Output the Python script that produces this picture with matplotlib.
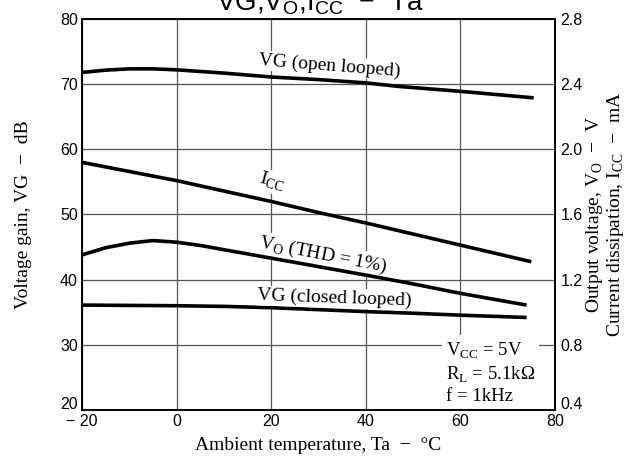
import matplotlib
matplotlib.use('Agg')
import matplotlib.pyplot as plt
import matplotlib.transforms as mtransforms

plt.rcParams['font.family'] = 'Liberation Sans'
plt.rcParams['mathtext.fontset'] = 'custom'
plt.rcParams['mathtext.rm'] = 'Liberation Serif'
plt.rcParams['mathtext.sf'] = 'Liberation Sans'

# Ambient temperature (°C) and readings
ta_vg_open = [-20, -15, -10, -5, 0, 5, 10, 15, 20, 30, 40, 47, 60, 75.5]
vg_open = [71.8, 72.15, 72.35, 72.35, 72.2, 71.95, 71.7, 71.4, 71.1, 70.7, 70.2, 69.65, 68.9, 67.9]   # dB

ta_vg_closed = [-20, 0, 10, 20, 30, 40, 50, 60, 74]
vg_closed = [36.1, 36.0, 35.9, 35.7, 35.4, 35.1, 34.85, 34.55, 34.2]   # dB

ta_icc = [-20, -10, 0, 10, 20, 30, 40, 50, 60, 75]
icc = [1.92, 1.864, 1.808, 1.744, 1.68, 1.612, 1.548, 1.48, 1.412, 1.31]   # mA

ta_vo = [-20, -15, -10, -5, 0, 5, 10, 20, 30, 40, 50, 60, 74]
vo = [1.352, 1.396, 1.424, 1.44, 1.43, 1.41, 1.384, 1.332, 1.28, 1.228, 1.174, 1.116, 1.044]   # V

x_ticks = [-20, 0, 20, 40, 60, 80]
x_ticklabels = ['\u2212 20', '0', '20', '40', '60', '80']
left_ticks = [20, 30, 40, 50, 60, 70, 80]
right_ticks = [0.4, 0.8, 1.2, 1.6, 2.0, 2.4, 2.8]

serif = 'Liberation Serif'

fig = plt.figure(figsize=(6.37, 4.72), dpi=100)
ax = fig.add_axes([82 / 637, 1 - 410 / 472, (555 - 82) / 637, (410 - 19) / 472])
ax2 = ax.twinx()

ax.set_xlim(-20, 80)
ax.set_ylim(20, 80)
ax2.set_ylim(0.4, 2.8)
ax.set_xticks(x_ticks)
ax.set_xticklabels(x_ticklabels)
ax.set_yticks(left_ticks)
ax2.set_yticks(right_ticks)
ax2.set_yticklabels([f'{v:.1f}' for v in right_ticks])
ax.tick_params(length=0, labelsize=11.5, pad=3)
ax2.tick_params(length=0, labelsize=11.5, pad=4)

# lift the bottom "20" so it clears "- 20"
shift = mtransforms.ScaledTranslation(0, 5 / 72, fig.dpi_scale_trans)
lbl = ax.get_yticklabels()[0]
lbl.set_transform(lbl.get_transform() + shift)
lbl = ax2.get_yticklabels()[0]
lbl.set_transform(lbl.get_transform() + shift)

ax.set_axisbelow(True)
ax.grid(True, color='#555555', linewidth=0.9)
for a in (ax, ax2):
    for s in a.spines.values():
        s.set_linewidth(1.2)
        s.set_color('black')

# curves
ax.plot(ta_vg_open, vg_open, color='black', lw=2.6, solid_capstyle='butt')
ax.plot(ta_vg_closed, vg_closed, color='black', lw=2.6, solid_capstyle='butt')
ax2.plot(ta_icc, icc, color='black', lw=2.6, solid_capstyle='butt')
ax2.plot(ta_vo, vo, color='black', lw=2.6, solid_capstyle='butt')

bb = dict(facecolor='white', edgecolor='none', pad=1)
ax.text(17.2, 73.0, 'VG (open looped)', family=serif, fontsize=14, rotation=-4.5,
        rotation_mode='anchor', ha='left', va='baseline', bbox=bb, zorder=3)
ax.text(17.2, 54.8, r'I$_\mathrm{CC}$', family=serif, fontsize=14, rotation=-15,
        rotation_mode='anchor', ha='left', va='baseline', bbox=bb, zorder=3)
ax.text(17.2, 45.0, r'V$_\mathrm{O}$ (THD = 1%)', family=serif, fontsize=14, rotation=-11,
        rotation_mode='anchor', ha='left', va='baseline', bbox=bb, zorder=3)
ax.text(17.0, 36.9, 'VG (closed looped)', family=serif, fontsize=14, rotation=-2,
        rotation_mode='anchor', ha='left', va='baseline', bbox=bb, zorder=3)

ax2.text(57.0, 0.43,
         'V$_\\mathrm{CC}$ = 5V\nR$_\\mathrm{L}$ = 5.1k\u03a9\nf = 1kHz',
         family=serif, fontsize=13.5, ha='left', va='bottom', linespacing=1.25,
         bbox=dict(facecolor='white', edgecolor='none', pad=3), zorder=3)

ax.set_xlabel('Ambient temperature, Ta  \u2212  \u00b0C', family=serif, fontsize=14, labelpad=6)
ax.set_ylabel('Voltage gain, VG  \u2212  dB', family=serif, fontsize=14, labelpad=20)
ax2.set_ylabel('Output voltage, V$_\\mathrm{O}$  \u2212  V\nCurrent dissipation, I$_\\mathrm{CC}$  \u2212  mA',
               family=serif, fontsize=14, rotation=90, labelpad=1, linespacing=1.0)

fig.text(320 / 637, 1 - 10 / 472, r'VG,V$_\mathsf{O}$,I$_\mathsf{CC}$  $-$  Ta',
         fontsize=20, ha='center', va='baseline')

fig.savefig('out.png', dpi=100)
